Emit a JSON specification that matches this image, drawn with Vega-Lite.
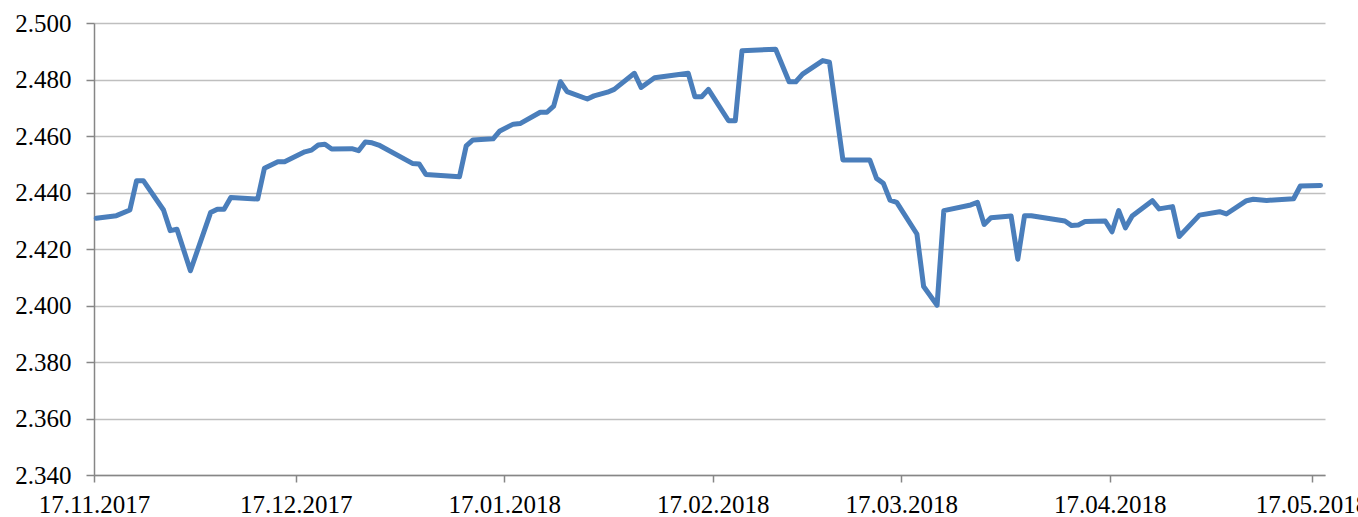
{
  "$schema": "https://vega.github.io/schema/vega-lite/v6.json",
  "width": 1231,
  "height": 452,
  "autosize": {"type": "none"},
  "padding": {"left": 94, "top": 23, "right": 33, "bottom": 42},
  "background": "white",
  "config": {
    "view": {"stroke": null},
    "font": "Liberation Serif"
  },
  "data": {
    "values": [
      {"date": "2017-11-17T08:00:00Z", "value": 2.4309},
      {"date": "2017-11-20T08:00:00Z", "value": 2.4318},
      {"date": "2017-11-22T08:00:00Z", "value": 2.4338},
      {"date": "2017-11-23T08:00:00Z", "value": 2.4442},
      {"date": "2017-11-24T08:00:00Z", "value": 2.4442},
      {"date": "2017-11-27T08:00:00Z", "value": 2.4338},
      {"date": "2017-11-28T08:00:00Z", "value": 2.4265},
      {"date": "2017-11-29T08:00:00Z", "value": 2.4270},
      {"date": "2017-12-01T08:00:00Z", "value": 2.4123},
      {"date": "2017-12-04T08:00:00Z", "value": 2.4329},
      {"date": "2017-12-05T08:00:00Z", "value": 2.4341},
      {"date": "2017-12-06T08:00:00Z", "value": 2.4341},
      {"date": "2017-12-07T08:00:00Z", "value": 2.4382},
      {"date": "2017-12-11T08:00:00Z", "value": 2.4377},
      {"date": "2017-12-12T08:00:00Z", "value": 2.4486},
      {"date": "2017-12-14T08:00:00Z", "value": 2.4509},
      {"date": "2017-12-15T08:00:00Z", "value": 2.4509},
      {"date": "2017-12-18T08:00:00Z", "value": 2.4544},
      {"date": "2017-12-19T08:00:00Z", "value": 2.4550},
      {"date": "2017-12-20T08:00:00Z", "value": 2.4568},
      {"date": "2017-12-21T08:00:00Z", "value": 2.4571},
      {"date": "2017-12-22T08:00:00Z", "value": 2.4554},
      {"date": "2017-12-25T08:00:00Z", "value": 2.4555},
      {"date": "2017-12-26T08:00:00Z", "value": 2.4548},
      {"date": "2017-12-27T08:00:00Z", "value": 2.4579},
      {"date": "2017-12-28T08:00:00Z", "value": 2.4576},
      {"date": "2017-12-29T08:00:00Z", "value": 2.4568},
      {"date": "2018-01-03T08:00:00Z", "value": 2.4503},
      {"date": "2018-01-04T08:00:00Z", "value": 2.4501},
      {"date": "2018-01-05T08:00:00Z", "value": 2.4464},
      {"date": "2018-01-10T08:00:00Z", "value": 2.4456},
      {"date": "2018-01-11T08:00:00Z", "value": 2.4565},
      {"date": "2018-01-12T08:00:00Z", "value": 2.4586},
      {"date": "2018-01-15T08:00:00Z", "value": 2.4590},
      {"date": "2018-01-16T08:00:00Z", "value": 2.4618},
      {"date": "2018-01-18T08:00:00Z", "value": 2.4642},
      {"date": "2018-01-19T08:00:00Z", "value": 2.4644},
      {"date": "2018-01-22T08:00:00Z", "value": 2.4684},
      {"date": "2018-01-23T08:00:00Z", "value": 2.4684},
      {"date": "2018-01-24T08:00:00Z", "value": 2.4706},
      {"date": "2018-01-25T08:00:00Z", "value": 2.4792},
      {"date": "2018-01-26T08:00:00Z", "value": 2.4757},
      {"date": "2018-01-29T08:00:00Z", "value": 2.4731},
      {"date": "2018-01-30T08:00:00Z", "value": 2.4742},
      {"date": "2018-02-01T08:00:00Z", "value": 2.4755},
      {"date": "2018-02-02T08:00:00Z", "value": 2.4765},
      {"date": "2018-02-05T08:00:00Z", "value": 2.4822},
      {"date": "2018-02-06T08:00:00Z", "value": 2.4772},
      {"date": "2018-02-08T08:00:00Z", "value": 2.4806},
      {"date": "2018-02-13T08:00:00Z", "value": 2.4822},
      {"date": "2018-02-14T08:00:00Z", "value": 2.4739},
      {"date": "2018-02-15T08:00:00Z", "value": 2.4739},
      {"date": "2018-02-16T08:00:00Z", "value": 2.4765},
      {"date": "2018-02-19T08:00:00Z", "value": 2.4654},
      {"date": "2018-02-20T08:00:00Z", "value": 2.4654},
      {"date": "2018-02-21T08:00:00Z", "value": 2.4902},
      {"date": "2018-02-26T08:00:00Z", "value": 2.4907},
      {"date": "2018-02-28T08:00:00Z", "value": 2.4792},
      {"date": "2018-03-01T08:00:00Z", "value": 2.4792},
      {"date": "2018-03-02T08:00:00Z", "value": 2.4819},
      {"date": "2018-03-05T08:00:00Z", "value": 2.4867},
      {"date": "2018-03-06T08:00:00Z", "value": 2.4861},
      {"date": "2018-03-08T08:00:00Z", "value": 2.4515},
      {"date": "2018-03-12T08:00:00Z", "value": 2.4515},
      {"date": "2018-03-13T08:00:00Z", "value": 2.4450},
      {"date": "2018-03-14T08:00:00Z", "value": 2.4433},
      {"date": "2018-03-15T08:00:00Z", "value": 2.4373},
      {"date": "2018-03-16T08:00:00Z", "value": 2.4365},
      {"date": "2018-03-19T08:00:00Z", "value": 2.4253},
      {"date": "2018-03-20T08:00:00Z", "value": 2.4067},
      {"date": "2018-03-22T08:00:00Z", "value": 2.4001},
      {"date": "2018-03-23T08:00:00Z", "value": 2.4336},
      {"date": "2018-03-27T08:00:00Z", "value": 2.4356},
      {"date": "2018-03-28T08:00:00Z", "value": 2.4365},
      {"date": "2018-03-29T08:00:00Z", "value": 2.4287},
      {"date": "2018-03-30T08:00:00Z", "value": 2.4311},
      {"date": "2018-04-02T08:00:00Z", "value": 2.4317},
      {"date": "2018-04-03T08:00:00Z", "value": 2.4164},
      {"date": "2018-04-04T08:00:00Z", "value": 2.4318},
      {"date": "2018-04-05T08:00:00Z", "value": 2.4318},
      {"date": "2018-04-10T08:00:00Z", "value": 2.4299},
      {"date": "2018-04-11T08:00:00Z", "value": 2.4283},
      {"date": "2018-04-12T08:00:00Z", "value": 2.4285},
      {"date": "2018-04-13T08:00:00Z", "value": 2.4297},
      {"date": "2018-04-16T08:00:00Z", "value": 2.4299},
      {"date": "2018-04-17T08:00:00Z", "value": 2.4261},
      {"date": "2018-04-18T08:00:00Z", "value": 2.4336},
      {"date": "2018-04-19T08:00:00Z", "value": 2.4275},
      {"date": "2018-04-20T08:00:00Z", "value": 2.4317},
      {"date": "2018-04-23T08:00:00Z", "value": 2.4371},
      {"date": "2018-04-24T08:00:00Z", "value": 2.4342},
      {"date": "2018-04-26T08:00:00Z", "value": 2.4350},
      {"date": "2018-04-27T08:00:00Z", "value": 2.4244},
      {"date": "2018-04-30T08:00:00Z", "value": 2.4320},
      {"date": "2018-05-03T08:00:00Z", "value": 2.4332},
      {"date": "2018-05-04T08:00:00Z", "value": 2.4324},
      {"date": "2018-05-07T08:00:00Z", "value": 2.4371},
      {"date": "2018-05-08T08:00:00Z", "value": 2.4376},
      {"date": "2018-05-10T08:00:00Z", "value": 2.4372},
      {"date": "2018-05-14T08:00:00Z", "value": 2.4378},
      {"date": "2018-05-15T08:00:00Z", "value": 2.4423},
      {"date": "2018-05-18T08:00:00Z", "value": 2.4425}
    ]
  },
  "mark": {"type": "line", "color": "#4a7ebb", "strokeWidth": 5, "strokeJoin": "round", "strokeCap": "round"},
  "encoding": {
    "x": {
      "field": "date",
      "type": "temporal",
      "scale": {
        "type": "utc",
        "domain": [
          {"year": 2017, "month": 11, "date": 17, "utc": true},
          {"year": 2018, "month": 5, "date": 19, "utc": true}
        ],
        "nice": false
      },
      "axis": {
        "title": null,
        "format": "%d.%m.%Y",
        "values": [
          {"year": 2017, "month": 11, "date": 17, "utc": true},
          {"year": 2017, "month": 12, "date": 17, "utc": true},
          {"year": 2018, "month": 1, "date": 17, "utc": true},
          {"year": 2018, "month": 2, "date": 17, "utc": true},
          {"year": 2018, "month": 3, "date": 17, "utc": true},
          {"year": 2018, "month": 4, "date": 17, "utc": true},
          {"year": 2018, "month": 5, "date": 17, "utc": true}
        ],
        "grid": false,
        "domainColor": "#868686",
        "domainWidth": 1.5,
        "tickColor": "#868686",
        "tickWidth": 1.5,
        "tickSize": 7,
        "labelFont": "Liberation Serif",
        "labelFontSize": 25,
        "labelColor": "#000000",
        "labelPadding": 10,
        "labelOverlap": false,
        "labelFlush": false
      }
    },
    "y": {
      "field": "value",
      "type": "quantitative",
      "scale": {"domain": [2.34, 2.5], "nice": false, "zero": false},
      "axis": {
        "title": null,
        "format": ".3f",
        "values": [2.34, 2.36, 2.38, 2.4, 2.42, 2.44, 2.46, 2.48, 2.5],
        "grid": true,
        "gridColor": "#bfbfbf",
        "gridWidth": 1.5,
        "domainColor": "#868686",
        "domainWidth": 1.5,
        "tickColor": "#868686",
        "tickWidth": 1.5,
        "tickSize": 8,
        "labelFont": "Liberation Serif",
        "labelFontSize": 25,
        "labelColor": "#000000",
        "labelPadding": 15,
        "labelFlush": false
      }
    }
  }
}
